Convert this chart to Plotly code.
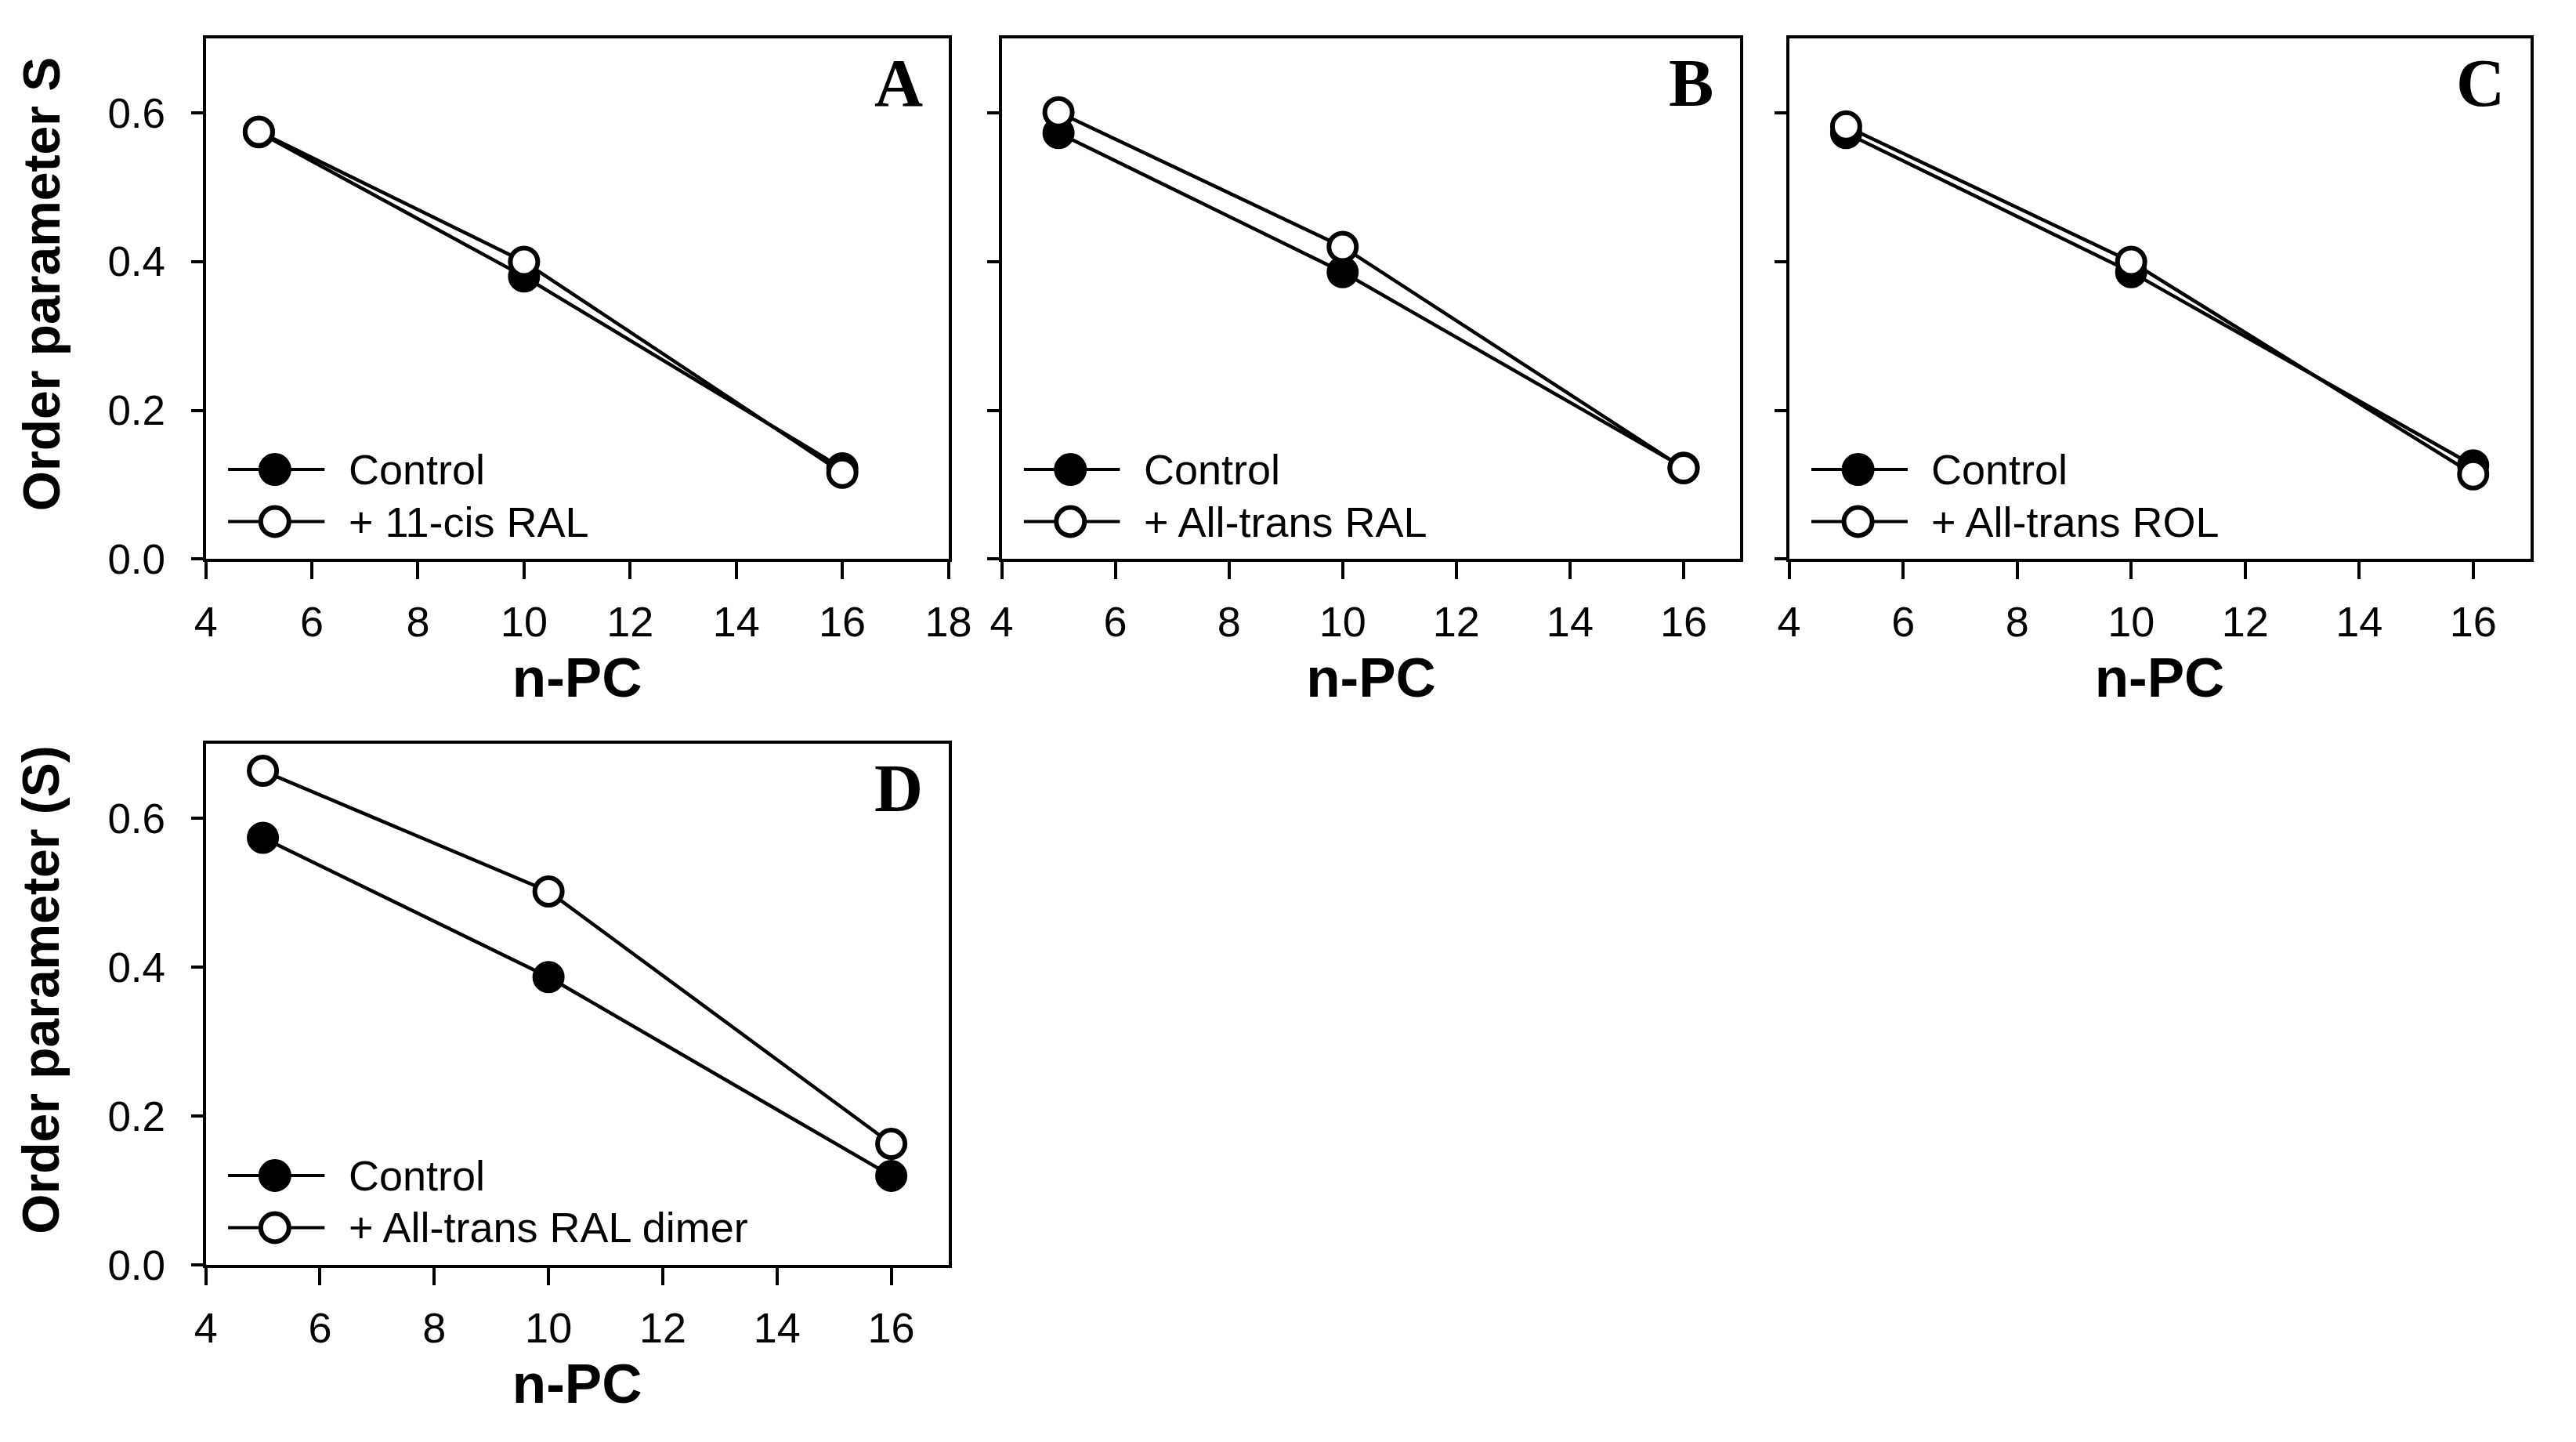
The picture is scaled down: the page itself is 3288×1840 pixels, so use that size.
import plotly.graph_objects as go

# ***** Datos ***** #
n_pc = [5, 10, 16]

control_a = [0.574, 0.380, 0.122]
cis_ral_a = [0.575, 0.400, 0.116]

control_b = [0.573, 0.386, 0.123]
trans_ral_b = [0.601, 0.420, 0.122]

control_c = [0.573, 0.386, 0.126]
trans_rol_c = [0.582, 0.400, 0.114]

control_d = [0.574, 0.387, 0.120]
ral_dimer_d = [0.664, 0.502, 0.163]

panel_letters = ['A', 'B', 'C', 'D']
treatment_names = ['+ 11-cis RAL', '+ All-trans RAL', '+ All-trans ROL', '+ All-trans RAL dimer']
y_titles = ['Order parameter S', '', '', 'Order parameter (S)']
x_max = [18, 17, 17, 17]

W, H = 3288, 1840
SANS = 'Liberation Sans, Arial, sans-serif'
NARROW = 'Liberation Sans Narrow, Arial Narrow, Liberation Sans, sans-serif'

# dominios en pixeles: (izq, der, arriba, abajo)
cajas = [(243, 1204, 42, 717), (1273, 2229, 42, 717),
         (2292, 3251, 42, 717), (243, 1204, 957, 1633)]

paneles = [(control_a, cis_ral_a), (control_b, trans_ral_b),
           (control_c, trans_rol_c), (control_d, ral_dimer_d)]

fig = go.Figure()
shapes, annotations = [], []

for i, (ctrl, trat) in enumerate(paneles):
    n = '' if i == 0 else str(i + 1)
    xa, ya = 'x' + n, 'y' + n
    for serie, relleno in ((ctrl, 'black'), (trat, 'white')):
        fig.add_trace(go.Scatter(
            x=n_pc, y=serie, xaxis=xa, yaxis=ya, mode='lines+markers',
            line=dict(color='black', width=4.5),
            marker=dict(symbol='circle', size=35, color=relleno,
                        line=dict(color='black', width=6)),
            showlegend=False, hoverinfo='x+y'))

    izq, der, arr, aba = cajas[i]
    fig.update_layout(**{
        'xaxis' + n: dict(
            domain=[izq / W, der / W], anchor=ya, range=[4, x_max[i]],
            tick0=4, dtick=2, ticks='outside', ticklen=22, tickwidth=4,
            tickcolor='black', showline=True, linewidth=4, linecolor='black',
            mirror=True, showgrid=False, zeroline=False,
            tickfont=dict(family=NARROW, size=54, color='black'),
            ticklabelstandoff=8,
            title=dict(text='n-PC', standoff=18,
                       font=dict(family=SANS, size=71, color='black', weight='bold'))),
        'yaxis' + n: dict(
            domain=[1 - aba / H, 1 - arr / H], anchor=xa, range=[0, 0.7],
            tick0=0, dtick=0.2, tickformat='.1f', ticks='outside', ticklen=15,
            tickwidth=4, tickcolor='black', showline=True, linewidth=4,
            linecolor='black', mirror=True, showgrid=False, zeroline=False,
            showticklabels=(y_titles[i] != ''),
            tickfont=dict(family=SANS, size=53, color='black'),
            ticklabelstandoff=22),
    })

    # titulo del eje y (un poco por encima del centro, como en el original)
    if y_titles[i]:
        annotations.append(dict(
            text=y_titles[i], textangle=-90, xref='paper', yref=ya + ' domain',
            x=30 / W, y=0.528, xanchor='center', yanchor='middle', showarrow=False,
            font=dict(family=SANS, size=66, color='black', weight='bold')))

    # letra del panel
    annotations.append(dict(
        text=panel_letters[i], xref=xa + ' domain', yref=ya + ' domain',
        x=0.933, y=0.915, xanchor='center', yanchor='middle', showarrow=False,
        font=dict(family='Liberation Serif, Times New Roman, serif', size=86,
                  color='black', weight='bold')))

    # leyenda dibujada a mano (linea + circulo + texto)
    for fila, (nombre, relleno) in enumerate((('Control', 'black'), (treatment_names[i], 'white'))):
        yy = 0.172 - 0.1 * fila
        shapes.append(dict(type='line', xref=xa + ' domain', yref=ya + ' domain',
                           x0=0.03, x1=0.16, y0=yy, y1=yy,
                           line=dict(color='black', width=4)))
        shapes.append(dict(type='circle', xref=xa + ' domain', yref=ya + ' domain',
                           xsizemode='pixel', ysizemode='pixel',
                           xanchor=0.093, yanchor=yy, x0=-18, x1=18, y0=-18, y1=18,
                           fillcolor=relleno, line=dict(color='black', width=6)))
        annotations.append(dict(
            text=nombre, xref=xa + ' domain', yref=ya + ' domain',
            x=0.19, y=yy, xanchor='left', yanchor='middle', showarrow=False,
            font=dict(family=SANS, size=54, color='black')))

fig.update_layout(
    width=W, height=H,
    margin=dict(l=0, r=0, t=0, b=0),
    paper_bgcolor='white', plot_bgcolor='white',
    shapes=shapes, annotations=annotations,
    showlegend=False,
)

fig.write_html('out.html')
